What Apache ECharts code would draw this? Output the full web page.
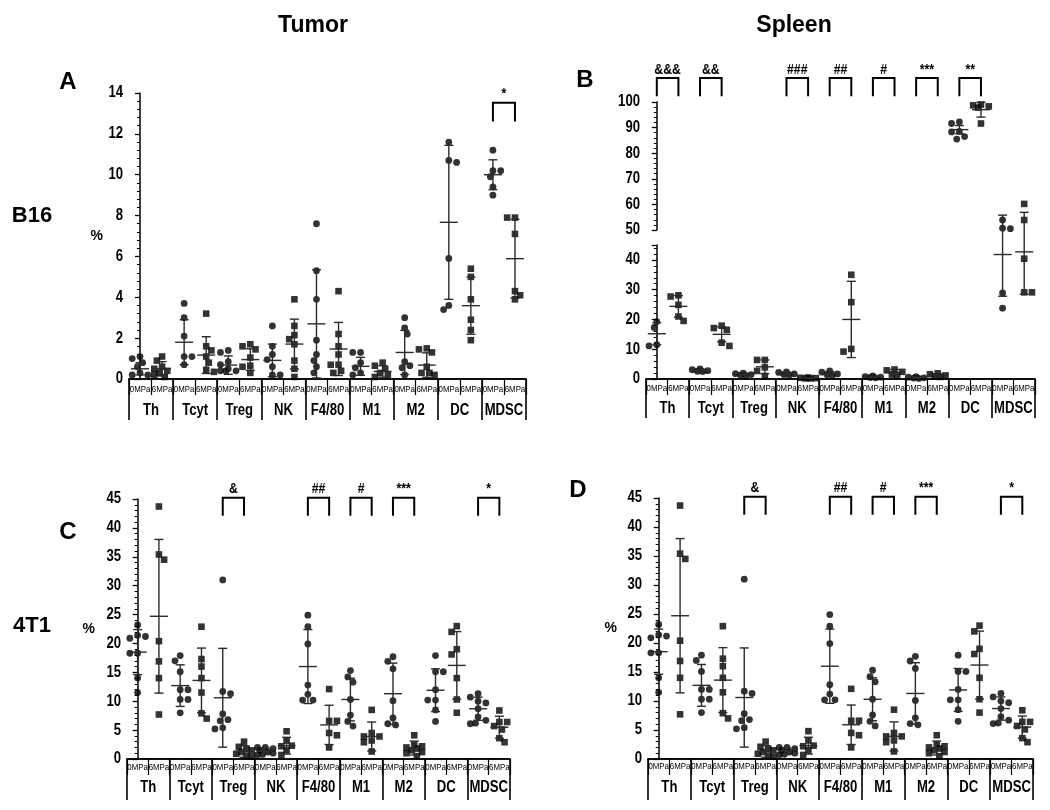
<!DOCTYPE html>
<html><head><meta charset="utf-8">
<script src="https://cdn.jsdelivr.net/npm/echarts@6/dist/echarts.min.js"></script>
<style>html,body{margin:0;padding:0;background:#fff}#c{width:1050px;height:810px}</style>
</head><body><div id="c"></div>
<script>
// ---------- DATA ----------
const categories = ['Th', 'Tcyt', 'Treg', 'NK', 'F4/80', 'M1', 'M2', 'DC', 'MDSC'];
const conditions = ['0MPa', '6MPa'];

// Panel A: Tumor, B16
const A_pts0 = [
  [1.1, 1.0, 0.8, 0.6, 0.3, 0.2, 0.2],
  [3.7, 3.0, 2.1, 1.1, 1.1, 0.7],
  [1.4, 1.3, 0.85, 0.7, 0.5, 0.4, 0.4, 0.4],
  [2.6, 1.6, 1.2, 0.95, 0.6, 0.2, 0.2],
  [7.6, 5.3, 3.9, 1.9, 1.2, 0.9, 0.6, 0.3],
  [1.3, 1.3, 0.8, 0.55, 0.3, 0.2],
  [3.0, 2.5, 2.2, 0.85, 0.65, 0.55, 0.2],
  [11.6, 10.7, 10.6, 5.9, 3.6, 3.4],
  [11.2, 10.2, 10.2, 9.9, 9.4, 9.0]
];
const A_pts6 = [
  [1.1, 0.9, 0.6, 0.5, 0.4, 0.3, 0.2, 0.1],
  [3.2, 1.6, 1.4, 1.1, 0.8, 0.45, 0.35],
  [1.7, 1.6, 1.45, 1.05, 0.65, 0.6, 0.3],
  [3.9, 2.6, 2.15, 1.95, 1.7, 0.9, 0.5, 0.1],
  [4.3, 2.2, 1.6, 1.2, 0.7, 0.7, 0.4, 0.3],
  [0.8, 0.65, 0.5, 0.3, 0.2, 0.1],
  [1.5, 1.45, 1.3, 0.6, 0.3, 0.3, 0.2],
  [5.4, 5.0, 3.9, 2.9, 2.4, 1.9],
  [7.9, 7.9, 7.1, 4.3, 4.1, 3.9]
];
const A_mean0 = [0.5, 1.8, 0.68, 0.91, 2.7, 0.62, 1.3, 7.67, 10.0];
const A_sd0   = [0.3, 1.1, 0.45, 0.8, 2.65, 0.44, 1.08, 3.77, 0.73];
const A_mean6 = [0.5, 1.17, 0.95, 1.71, 1.47, 0.37, 0.68, 3.59, 5.89];
const A_sd6   = [0.35, 0.9, 0.53, 1.22, 1.3, 0.28, 0.6, 1.4, 1.93];
const A_sigCats = ['MDSC'];
const A_sigLabels = ['*'];

// Panel B: Spleen, B16
const B_pts0 = [
  [19.3, 17.3, 11.1, 11.5],
  [3.4, 3.1, 2.8, 2.5, 2.6],
  [2.0, 1.8, 1.5, 1.3, 1.1],
  [2.4, 2.2, 1.7, 1.5, 1.3],
  [2.7, 2.3, 1.7, 1.4, 1.2],
  [1.0, 0.8, 0.6, 0.5, 0.4],
  [0.8, 0.6, 0.4, 0.3, 0.2],
  [92.2, 91.6, 88.5, 88.3, 86.5, 85.5],
  [53.9, 50.7, 50.5, 28.9, 23.8]
];
const B_pts6 = [
  [27.7, 28.1, 24.9, 19.5, 21.0],
  [17.9, 17.1, 16.5, 12.2, 11.1],
  [6.4, 6.4, 3.9, 2.7, 1.0],
  [0.5, 0.4, 0.3, 0.2, 0.2],
  [35.0, 25.8, 10.1, 9.2],
  [3.2, 2.9, 2.4, 1.5, 1.2],
  [1.9, 1.6, 1.2, 0.9, 0.7],
  [99.0, 98.7, 98.3, 97.8, 91.6],
  [60.2, 53.9, 40.4, 29.1, 29.1]
];
const B_mean0 = [15.2, 2.9, 1.6, 1.8, 1.9, 0.7, 0.45, 89.2, 41.8];
const B_sd0   = [3.7, 0.4, 0.35, 0.45, 0.6, 0.25, 0.25, 1.6, 14.0];
const B_mean6 = [24.4, 15.0, 4.1, 0.3, 20.0, 2.3, 1.2, 97.0, 42.7];
const B_sd6   = [3.6, 2.5, 2.3, 0.12, 12.8, 0.9, 0.5, 2.9, 14.2];
const B_sigCats = ['Th', 'Tcyt', 'NK', 'F4/80', 'M1', 'M2', 'DC'];
const B_sigLabels = ['&&&', '&&', '###', '##', '#', '***', '**'];

// Panels C and D: 4T1 (same values shown in both panels)
const C_pts0 = [
  [23.2, 21.4, 21.2, 20.9, 18.3, 18.3, 14.0, 11.5],
  [17.9, 17.0, 15.1, 12.0, 12.0, 10.3, 10.3, 8.0],
  [31.0, 11.7, 11.3, 7.8, 6.8, 6.6, 5.4, 5.2],
  [2.0, 2.0, 1.8, 1.5, 1.2, 1.0, 0.8, 0.7],
  [24.9, 22.9, 19.9, 12.8, 11.2, 10.2, 10.2],
  [15.3, 14.2, 13.3, 10.3, 7.6, 6.5, 5.7],
  [17.7, 16.9, 15.6, 10.1, 7.1, 6.1, 5.9],
  [17.9, 15.1, 15.1, 12.0, 10.2, 10.2, 8.5, 6.5],
  [11.3, 10.7, 10.0, 9.7, 8.7, 7.3, 6.7, 6.2, 6.1]
];
const C_pts6 = [
  [43.7, 35.4, 34.5, 20.4, 16.9, 14.0, 7.7],
  [22.9, 17.3, 16.0, 14.0, 11.5, 7.9, 7.0],
  [3.0, 2.1, 1.8, 1.5, 1.2, 0.9, 0.6, 0.4],
  [4.8, 3.2, 2.3, 2.2, 1.5, 0.7],
  [12.1, 6.6, 6.6, 4.5, 4.1, 2.0],
  [8.5, 4.5, 3.9, 3.9, 3.2, 2.9, 1.3],
  [4.1, 2.5, 2.2, 2.0, 1.8, 1.5, 1.2, 1.0, 0.5],
  [23.0, 22.0, 19.0, 18.1, 14.0, 10.3, 8.0],
  [8.4, 6.4, 6.4, 5.7, 5.1, 3.6, 2.9]
];
const C_mean0 = [18.5, 12.7, 10.6, 1.4, 16.0, 10.3, 11.3, 11.9, 8.7];
const C_sd0   = [3.9, 3.6, 8.55, 0.5, 6.4, 3.7, 5.3, 3.7, 2.0];
const C_mean6 = [24.7, 13.6, 1.3, 2.3, 5.9, 3.9, 1.9, 16.2, 5.5];
const C_sd6   = [13.3, 5.6, 1.0, 1.45, 3.4, 2.5, 1.2, 5.85, 1.9];
const C_sigCats = ['Treg', 'F4/80', 'M1', 'M2', 'MDSC'];
const C_sigLabels = ['&', '##', '#', '***', '*'];

// ---------- BUILD ----------
const FONT = '"Liberation Sans",Arial,"DejaVu Sans",sans-serif';
const NARROW_SCALE = 0.82;
const grids = [], xAxes = [], yAxes = [], series = [];

function ntext(t, x, y, size, weight, align, valign) {
  return { type: 'text', x: x, y: y, scaleX: NARROW_SCALE, scaleY: 1,
    style: { text: t, font: weight + ' ' + size + 'px ' + FONT, fill: '#000',
      textAlign: align, textVerticalAlign: valign, align: align, verticalAlign: valign } };
}

function swarm(vals, toPx) {
  const D = 6.4, step = 2.6, maxOff = 9;
  const placed = [];
  const offs = new Array(vals.length);
  const order = vals.map((v, i) => i).sort((a, b) => vals[b] - vals[a]);
  const cands = [0];
  for (let k = 1; k * step <= maxOff + 1e-6; k++) { cands.push(k * step, -k * step); }
  order.forEach((i, n) => {
    const py = toPx(vals[i]);
    let chosen = null, best = 0, bestScore = -1;
    const list = (n % 2) ? cands.map(c => -c) : cands;
    for (const c of list) {
      let minD = Infinity;
      for (const p of placed) minD = Math.min(minD, Math.hypot(p[0] - c, p[1] - py));
      if (minD >= D) { chosen = c; break; }
      if (minD > bestScore) { bestScore = minD; best = c; }
    }
    if (chosen === null) chosen = best;
    placed.push([chosen, py]);
    offs[i] = chosen;
  });
  return offs;
}

function errRender(seg, extTop) {
  return function (params, api) {
    const x = api.value(0), m = api.value(1), s = api.value(2);
    const lo = m - s, hi = m + s;
    const ch = [];
    if (!(hi < seg.min || lo > seg.max)) {
      const cx = api.coord([x, m])[0];
      const yOf = v => api.coord([x, v])[1];
      const st = { stroke: '#2b2b2b', lineWidth: 1.4 };
      const yA = yOf(Math.max(lo, seg.min));
      const yB = hi > seg.max ? yOf(seg.max) - extTop : yOf(hi);
      ch.push({ type: 'line', shape: { x1: cx, y1: yA, x2: cx, y2: yB }, style: st });
      const capW = 4.5, meanW = 9;
      if (lo >= seg.min && lo <= seg.max) ch.push({ type: 'line', shape: { x1: cx - capW, y1: yOf(lo), x2: cx + capW, y2: yOf(lo) }, style: st });
      if (hi >= seg.min && hi <= seg.max) ch.push({ type: 'line', shape: { x1: cx - capW, y1: yOf(hi), x2: cx + capW, y2: yOf(hi) }, style: st });
      if (m >= seg.min && m <= seg.max) ch.push({ type: 'line', shape: { x1: cx - meanW, y1: yOf(m), x2: cx + meanW, y2: yOf(m) }, style: st });
    }
    return { type: 'group', children: ch };
  };
}

function addPanel(cfg) {
  const segs = cfg.segs;
  const toPx = v => {
    let sg = segs.find(s => v >= s.min && v <= s.max);
    if (!sg) sg = segs[segs.length - 1];
    return sg.top + sg.height - (v - sg.min) / (sg.max - sg.min) * sg.height;
  };
  const pxX = cfg.width / 18;
  const pts = [];
  [cfg.pts0, cfg.pts6].forEach((groups, c) => {
    groups.forEach((vals, i) => {
      const offs = swarm(vals, toPx);
      vals.forEach((v, k) => pts.push({ c, x: 2 * i + c + offs[k] / pxX, v }));
    });
  });
  const errData = [];
  categories.forEach((cat, i) => {
    errData.push([2 * i, cfg.mean0[i], cfg.sd0[i]]);
    errData.push([2 * i + 1, cfg.mean6[i], cfg.sd6[i]]);
  });
  segs.forEach((seg, si) => {
    const gi = grids.length;
    grids.push({ left: cfg.left, width: cfg.width, top: seg.top, height: seg.height });
    const xi = xAxes.length;
    xAxes.push({ gridIndex: gi, type: 'value', min: -0.5, max: 17.5, show: false });
    const isBottom = si === segs.length - 1;
    if (isBottom) {
      xAxes.push({
        gridIndex: gi, type: 'category', position: 'bottom', data: categories.flatMap(() => conditions),
        axisLine: { show: true, lineStyle: { color: '#000', width: 1.5 } },
        axisTick: { show: true, interval: 0, length: 16, lineStyle: { color: '#000', width: 1.2 } },
        axisLabel: { show: false }, splitLine: { show: false }
      });
      xAxes.push({
        gridIndex: gi, type: 'category', position: 'bottom', data: categories,
        axisLine: { show: true, lineStyle: { color: '#000', width: 1.5 } },
        axisTick: { show: true, interval: 0, length: cfg.decorLen, lineStyle: { color: '#000', width: 1.6 } },
        axisLabel: { show: false }, splitLine: { show: false }
      });
    }
    const yi = yAxes.length;
    const ya = {
      gridIndex: gi, type: 'value', min: seg.min, max: seg.max, interval: seg.interval,
      axisLine: { show: true, lineStyle: { color: '#000', width: 1.5 } },
      axisTick: { show: true, length: 5, lineStyle: { color: '#000', width: 1.3 } },
      minorTick: { show: true, splitNumber: 5, length: 3, lineStyle: { color: '#000', width: 1 } },
      splitLine: { show: false },
      axisLabel: { show: false }
    };
    if (cfg.yName && si === 0) {
      Object.assign(ya, { name: cfg.yName, nameLocation: 'middle', nameRotate: 0, nameGap: cfg.yNameGap,
        nameTextStyle: { fontFamily: FONT, fontSize: 14, fontWeight: 'bold', color: '#000' } });
    }
    yAxes.push(ya);
    const inSeg = p => (segs.length === 1) || (p.v >= seg.min && p.v <= seg.max);
    series.push({ type: 'scatter', xAxisIndex: xi, yAxisIndex: yi, symbol: 'circle', symbolSize: 6.8,
      itemStyle: { color: '#000' }, silent: true, z: 3,
      data: pts.filter(p => p.c === 0 && inSeg(p)).map(p => [p.x, p.v]) });
    series.push({ type: 'scatter', xAxisIndex: xi, yAxisIndex: yi, symbol: 'rect', symbolSize: 6.6,
      itemStyle: { color: '#000' }, silent: true, z: 3,
      data: pts.filter(p => p.c === 1 && inSeg(p)).map(p => [p.x, p.v]) });
    const extTop = (si > 0) ? (seg.top - (segs[si - 1].top + segs[si - 1].height)) : 0;
    series.push({ type: 'custom', xAxisIndex: xi, yAxisIndex: yi, renderItem: errRender(seg, extTop),
      data: errData, silent: true, z: 4 });
    // y tick labels (condensed bold text)
    const ticks = [];
    for (let v = seg.min; v <= seg.max + 1e-9; v += seg.interval) ticks.push([v]);
    series.push({ type: 'custom', xAxisIndex: xi, yAxisIndex: yi, silent: true, clip: false, z: 6, data: ticks,
      renderItem: (params, api) => {
        const p = api.coord([-0.5, api.value(0)]);
        return ntext(String(api.value(0)), p[0] - 6, p[1], 16, 'bold', 'right', 'middle');
      } });
    if (isBottom) {
      const subs = [];
      for (let k = 0; k < 18; k++) subs.push([k]);
      series.push({ type: 'custom', xAxisIndex: xi, yAxisIndex: yi, silent: true, clip: false, z: 6, data: subs,
        renderItem: (params, api) => {
          const k = api.value(0);
          const p = api.coord([k, seg.min]);
          return ntext(conditions[k % 2], p[0], p[1] + cfg.subOff, 9.6, 'normal', 'center', 'middle');
        } });
      series.push({ type: 'custom', xAxisIndex: xi, yAxisIndex: yi, silent: true, clip: false, z: 6,
        data: categories.map((c, i) => [2 * i + 0.5, i]),
        renderItem: (params, api) => {
          const p = api.coord([api.value(0), seg.min]);
          return ntext(categories[api.value(1)], p[0], p[1] + cfg.nameOff, 16, 'bold', 'center', 'middle');
        } });
    }
    if (si === 0) {
      const br = cfg.sigCats.map((cat, k) => [2 * categories.indexOf(cat), 2 * categories.indexOf(cat) + 1, k]);
      const labels = cfg.sigLabels;
      series.push({ type: 'custom', xAxisIndex: xi, yAxisIndex: yi, silent: true, z: 5, clip: false,
        data: br,
        renderItem: (params, api) => {
          const a = api.coord([api.value(0), cfg.brTop]);
          const b = api.coord([api.value(1), cfg.brTop]);
          const l = api.coord([api.value(0), cfg.brLeg]);
          const st = { stroke: '#000', lineWidth: 2, fill: null };
          const lab = labels[api.value(2)];
          return { type: 'group', children: [
            { type: 'polyline', shape: { points: [[a[0], l[1]], [a[0], a[1]], [b[0], b[1]], [b[0], l[1]]] }, style: st },
            ntext(lab, (a[0] + b[0]) / 2, a[1] - 1, 15, 'bold', 'center', 'bottom')
          ] };
        } });
    }
  });
}

addPanel({ left: 129, width: 397, segs: [{ top: 93, height: 286, min: 0, max: 14, interval: 2 }],
  pts0: A_pts0, pts6: A_pts6, mean0: A_mean0, sd0: A_sd0, mean6: A_mean6, sd6: A_sd6,
  sigCats: A_sigCats, sigLabels: A_sigLabels, brTop: 13.52, brLeg: 12.6, decorLen: 41, subOff: 10, nameOff: 32, yName: '%', yNameGap: 26 });
addPanel({ left: 646, width: 389, segs: [{ top: 102, height: 128, min: 50, max: 100, interval: 10 }, { top: 245, height: 134, min: 0, max: 45, interval: 10 }],
  pts0: B_pts0, pts6: B_pts6, mean0: B_mean0, sd0: B_sd0, mean6: B_mean6, sd6: B_sd6,
  sigCats: B_sigCats, sigLabels: B_sigLabels, brTop: 109.4, brLeg: 102.2, decorLen: 39, subOff: 9, nameOff: 30, yName: null });
addPanel({ left: 127, width: 383, segs: [{ top: 499, height: 260, min: 0, max: 45, interval: 5 }],
  pts0: C_pts0, pts6: C_pts6, mean0: C_mean0, sd0: C_sd0, mean6: C_mean6, sd6: C_sd6,
  sigCats: C_sigCats, sigLabels: C_sigLabels, brTop: 45.2, brLeg: 42.1, decorLen: 41, subOff: 8, nameOff: 29, yName: '%', yNameGap: 32 });
addPanel({ left: 648, width: 385, segs: [{ top: 498, height: 261, min: 0, max: 45, interval: 5 }],
  pts0: C_pts0, pts6: C_pts6, mean0: C_mean0, sd0: C_sd0, mean6: C_mean6, sd6: C_sd6,
  sigCats: C_sigCats, sigLabels: C_sigLabels, brTop: 45.2, brLeg: 42.1, decorLen: 41, subOff: 7, nameOff: 29, yName: '%', yNameGap: 31 });

function txt(t, x, y, size) {
  return { type: 'text', x: x, y: y, style: { text: t, font: 'bold ' + size + 'px ' + FONT, fill: '#000',
    textAlign: 'center', textVerticalAlign: 'middle', align: 'center', verticalAlign: 'middle' } };
}
const chart = echarts.init(document.getElementById('c'), null, { renderer: 'canvas' });
chart.setOption({
  animation: false,
  backgroundColor: '#fff',
  grid: grids, xAxis: xAxes, yAxis: yAxes, series: series,
  graphic: [
    txt('Tumor', 313, 26, 23), txt('Spleen', 794, 26, 23),
    txt('A', 68, 82, 24), txt('B', 585, 80, 24), txt('C', 68, 532, 24), txt('D', 578, 490, 24),
    txt('B16', 32, 216, 22), txt('4T1', 32, 626, 22)
  ]
});
</script></body></html>
